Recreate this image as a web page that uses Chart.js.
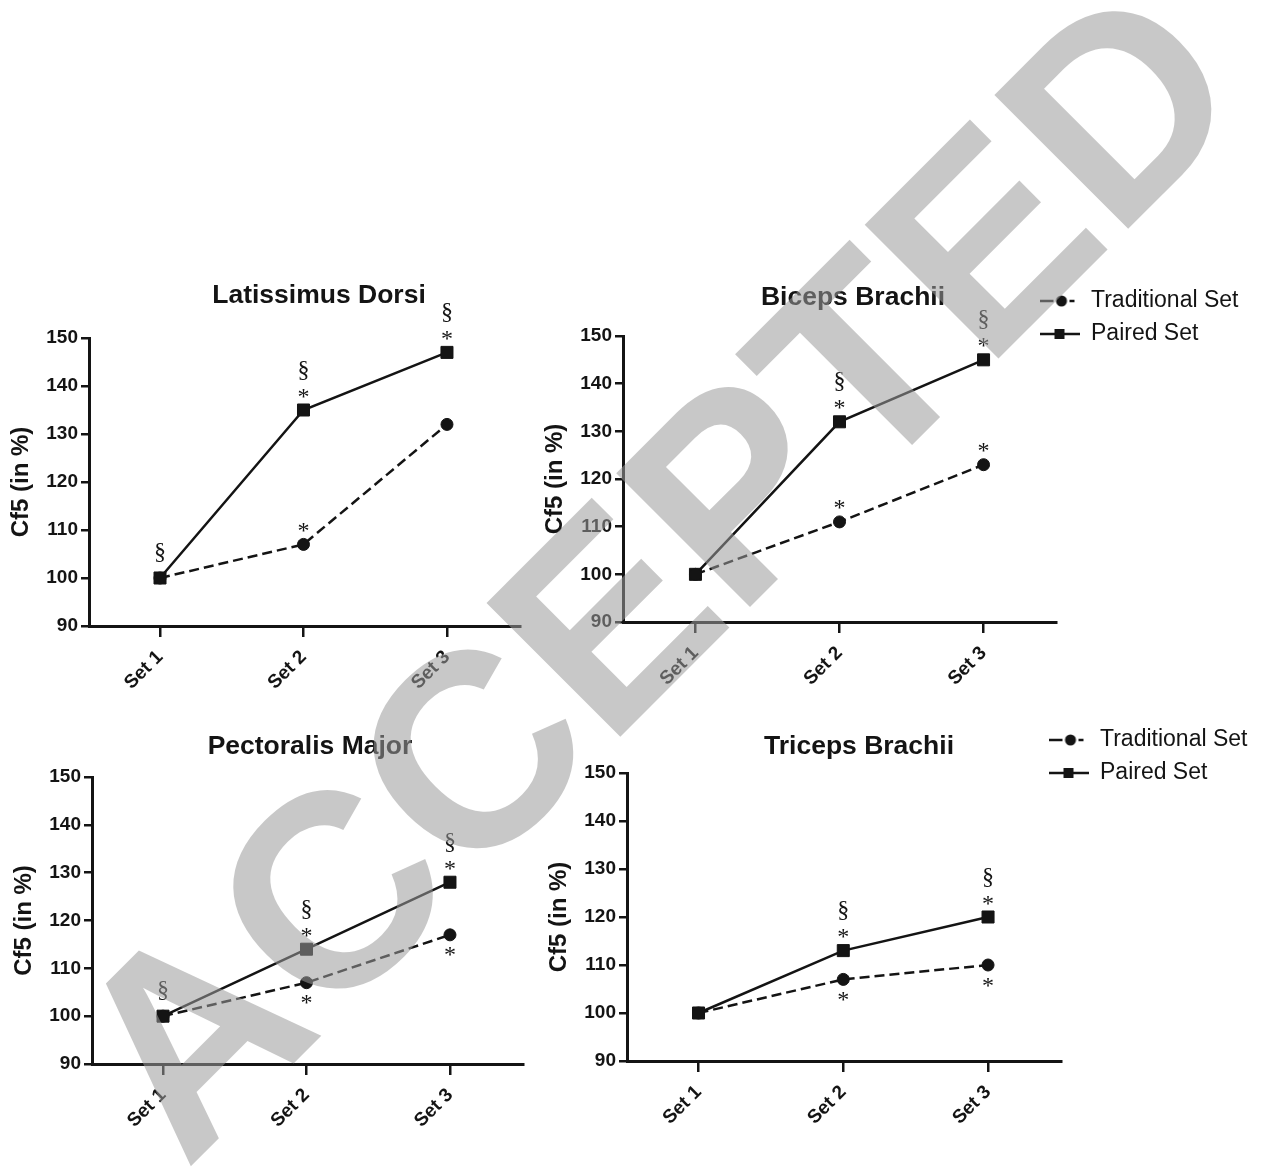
<!DOCTYPE html>
<html>
<head>
<meta charset="utf-8">
<script src="https://cdn.jsdelivr.net/npm/chart.js@4.4.1/dist/chart.umd.min.js"></script>
<style>
  html, body { margin: 0; padding: 0; background: #fff; }
  #page { position: relative; width: 1262px; height: 1169px; overflow: hidden; }
  #page canvas { position: absolute; }
  #watermark { left: 0; top: 0; pointer-events: none; }
</style>
</head>
<body>
<div id="page">
  <canvas id="ld" width="540" height="440" style="left:0;top:270px"></canvas>
  <canvas id="bb" width="722" height="440" style="left:540px;top:270px"></canvas>
  <canvas id="pm" width="540" height="449" style="left:0;top:720px"></canvas>
  <canvas id="tb" width="722" height="449" style="left:540px;top:720px"></canvas>
  <canvas id="watermark" width="1262" height="1169"></canvas>
</div>
<script>
// Cf5 (en % du Set 1) - 4 muscles, série traditionnelle vs série appariée

const SETS = ['Set 1', 'Set 2', 'Set 3'];
const SERIES = ['Traditional Set', 'Paired Set'];

const LD_TRAD = [100, 107, 132];
const LD_PAIRED = [100, 135, 147];
const BB_TRAD = [100, 111, 123];
const BB_PAIRED = [100, 132, 145];
const PM_TRAD = [100, 107, 117];
const PM_PAIRED = [100, 114, 128];
const TB_TRAD = [100, 107, 110];
const TB_PAIRED = [100, 113, 120];

// marques de significativité, listées depuis le point vers l'extérieur
const LD_TRAD_MARKS = ['', '*', ''];
const LD_PAIRED_MARKS = ['§', '*§', '*§'];
const BB_TRAD_MARKS = ['', '*', '*'];
const BB_PAIRED_MARKS = ['', '*§', '*§'];
const PM_TRAD_MARKS = ['', '*', '*'];
const PM_PAIRED_MARKS = ['§', '*§', '*§'];
const TB_TRAD_MARKS = ['', '*', '*'];
const TB_PAIRED_MARKS = ['', '*§', '*§'];

const INK = '#141414';

Chart.defaults.font.family = '"Liberation Sans", Arial, sans-serif';
Chart.defaults.color = INK;

// petites icônes de légende : trait + marqueur
function legendIcon(kind) {
    const c = document.createElement('canvas');
    c.width = 40; c.height = 16;
    const g = c.getContext('2d');
    g.fillStyle = INK; g.strokeStyle = INK; g.lineWidth = 2.5;
    if (kind === 'circle') {
        g.beginPath(); g.moveTo(0, 8); g.lineTo(14, 8); g.moveTo(30, 8); g.lineTo(35, 8); g.stroke();
        g.beginPath(); g.arc(22, 8, 5.5, 0, Math.PI * 2); g.fill();
    } else {
        g.beginPath(); g.moveTo(0, 8); g.lineTo(40, 8); g.stroke();
        g.fillRect(15, 3, 10, 10);
    }
    return c;
}
const LEGEND_ICONS = [legendIcon('circle'), legendIcon('rect')];

// replace titre et légende à des positions fixes (le graphique original n'est pas centré)
const placeBoxes = {
    id: 'placeBoxes',
    afterLayout(chart, args, opts) {
        const t = chart.titleBlock;
        if (t && opts.titleX != null) {
            const w = t.right - t.left;
            t.left = opts.titleX - w / 2;
            t.right = t.left + w;
        }
        const lg = chart.legend;
        if (lg && opts.legendX != null) {
            // la boîte sert aussi de zone de clip au dessin de la légende
            lg.left = opts.legendX;
            lg.right = lg.left + 260;
            lg.top = opts.legendY;
            lg.bottom = lg.top + 90;
        }
    }
};

// astérisques et § au-dessus / en dessous des points
const sigMarks = {
    id: 'sigMarks',
    afterDatasetsDraw(chart, args, opts) {
        const ctx = chart.ctx;
        ctx.save();
        ctx.fillStyle = INK;
        ctx.font = '24px "Liberation Serif", "DejaVu Serif", serif';
        ctx.textAlign = 'center';
        ctx.textBaseline = 'alphabetic';
        chart.data.datasets.forEach((ds, di) => {
            const marks = opts.marks[di];
            const dir = opts.below[di] ? 1 : -1;
            chart.getDatasetMeta(di).data.forEach((pt, i) => {
                let off = 0;
                [...(marks[i] || '')].forEach((ch, k) => {
                    off += k === 0 ? (ch === '*' ? 17 : 26) : 23;
                    const m = ctx.measureText(ch);
                    const cy = pt.y + dir * off;
                    ctx.fillText(ch, pt.x, cy + (m.actualBoundingBoxAscent - m.actualBoundingBoxDescent) / 2);
                });
            });
        });
        ctx.restore();
    }
};

function makePanel(p) {
    const toXY = (vals) => vals.map((v, i) => ({ x: i, y: v }));
    return new Chart(document.getElementById(p.id), {
        type: 'line',
        data: {
            datasets: [{
                label: SERIES[0],
                data: toXY(p.trad),
                borderColor: INK,
                backgroundColor: INK,
                borderWidth: 2.5,
                borderDash: [10, 5],
                pointStyle: 'circle',
                pointRadius: 6,
                pointBorderWidth: 1
            }, {
                label: SERIES[1],
                data: toXY(p.paired),
                borderColor: INK,
                backgroundColor: INK,
                borderWidth: 2.5,
                pointStyle: 'rect',
                pointRadius: 8.5,
                pointBorderWidth: 1
            }]
        },
        options: {
            responsive: false,
            animation: false,
            layout: { padding: p.pad },
            plugins: {
                tooltip: { enabled: false },
                title: {
                    display: true,
                    text: p.title,
                    color: INK,
                    font: { size: 26.5, weight: 'bold' },
                    padding: { top: 0, bottom: p.titleGap }
                },
                legend: {
                    display: p.legendX != null,
                    position: 'right',
                    align: 'start',
                    maxWidth: 1,
                    labels: {
                        usePointStyle: true,
                        pointStyleWidth: 40,
                        padding: 10,
                        color: INK,
                        font: { size: 23 },
                        generateLabels: (chart) => chart.data.datasets.map((ds, i) => ({
                            text: ds.label,
                            pointStyle: LEGEND_ICONS[i],
                            datasetIndex: i,
                            hidden: false,
                            lineWidth: 0,
                            fillStyle: INK,
                            strokeStyle: INK,
                            fontColor: INK
                        }))
                    }
                },
                placeBoxes: { titleX: p.titleX, legendX: p.legendX, legendY: p.legendY },
                sigMarks: { marks: [p.tradMarks, p.pairedMarks], below: [p.tradBelow, false] }
            },
            scales: {
                x: {
                    type: 'linear',
                    min: p.xMin,
                    max: p.xMax,
                    afterBuildTicks: (s) => { s.ticks = SETS.map((_, i) => ({ value: i })); },
                    afterFit: (s) => { s.height = 80; },
                    grid: { drawOnChartArea: false, tickLength: 11, color: INK, lineWidth: 2.5 },
                    border: { color: INK, width: 3 },
                    ticks: {
                        autoSkip: false,
                        minRotation: 45,
                        maxRotation: 45,
                        padding: 9,
                        color: INK,
                        font: { size: 19, weight: 'bold' },
                        callback: (v) => SETS[v]
                    }
                },
                y: {
                    min: 90,
                    max: 150,
                    afterFit: (s) => { s.width = 82; },
                    grid: { drawOnChartArea: false, tickLength: 8, color: INK, lineWidth: 2.5 },
                    border: { color: INK, width: 3 },
                    ticks: { stepSize: 10, padding: 3, color: INK, font: { size: 19, weight: 'bold' } },
                    title: {
                        display: true,
                        text: 'Cf5 (in %)',
                        color: INK,
                        font: { size: 24, weight: 'bold' },
                        padding: 0
                    }
                }
            }
        },
        plugins: [placeBoxes, sigMarks]
    });
}

makePanel({
    id: 'ld', title: 'Latissimus Dorsi',
    trad: LD_TRAD, paired: LD_PAIRED, tradMarks: LD_TRAD_MARKS, pairedMarks: LD_PAIRED_MARKS, tradBelow: false,
    pad: { left: 7, top: 10.1, right: 20, bottom: 4 }, titleGap: 26.1, titleX: 319,
    xMin: -0.495, xMax: 2.509
});
makePanel({
    id: 'bb', title: 'Biceps Brachii',
    trad: BB_TRAD, paired: BB_PAIRED, tradMarks: BB_TRAD_MARKS, pairedMarks: BB_PAIRED_MARKS, tradBelow: false,
    pad: { left: 1, top: 12.1, right: 205, bottom: 8 }, titleGap: 22.1, titleX: 313,
    xMin: -0.503, xMax: 2.503, legendX: 489.5, legendY: 9.5
});
makePanel({
    id: 'pm', title: 'Pectoralis Major',
    trad: PM_TRAD, paired: PM_PAIRED, tradMarks: PM_TRAD_MARKS, pairedMarks: PM_PAIRED_MARKS, tradBelow: true,
    pad: { left: 10, top: 11.1, right: 17, bottom: 25 }, titleGap: 14.1, titleX: 310,
    xMin: -0.495, xMax: 2.509
});
makePanel({
    id: 'tb', title: 'Triceps Brachii',
    trad: TB_TRAD, paired: TB_PAIRED, tradMarks: TB_TRAD_MARKS, pairedMarks: TB_PAIRED_MARKS, tradBelow: true,
    pad: { left: 5, top: 11.1, right: 200, bottom: 28 }, titleGap: 10.1, titleX: 319,
    xMin: -0.494, xMax: 2.504, legendX: 498.5, legendY: -1.5
});

// filigrane "ACCEPTED" par-dessus les graphiques
(function drawWatermark() {
    const ctx = document.getElementById('watermark').getContext('2d');
    ctx.save();
    ctx.translate(186, 1171);
    ctx.rotate(-Math.PI / 4);
    ctx.font = 'bold 275px "Liberation Sans", Arial, sans-serif';
    ctx.fillStyle = 'rgba(155, 155, 155, 0.55)';
    ctx.textBaseline = 'alphabetic';
    ctx.fillText('ACCEPTED', 0, 0);
    ctx.restore();
})();
</script>
</body>
</html>
